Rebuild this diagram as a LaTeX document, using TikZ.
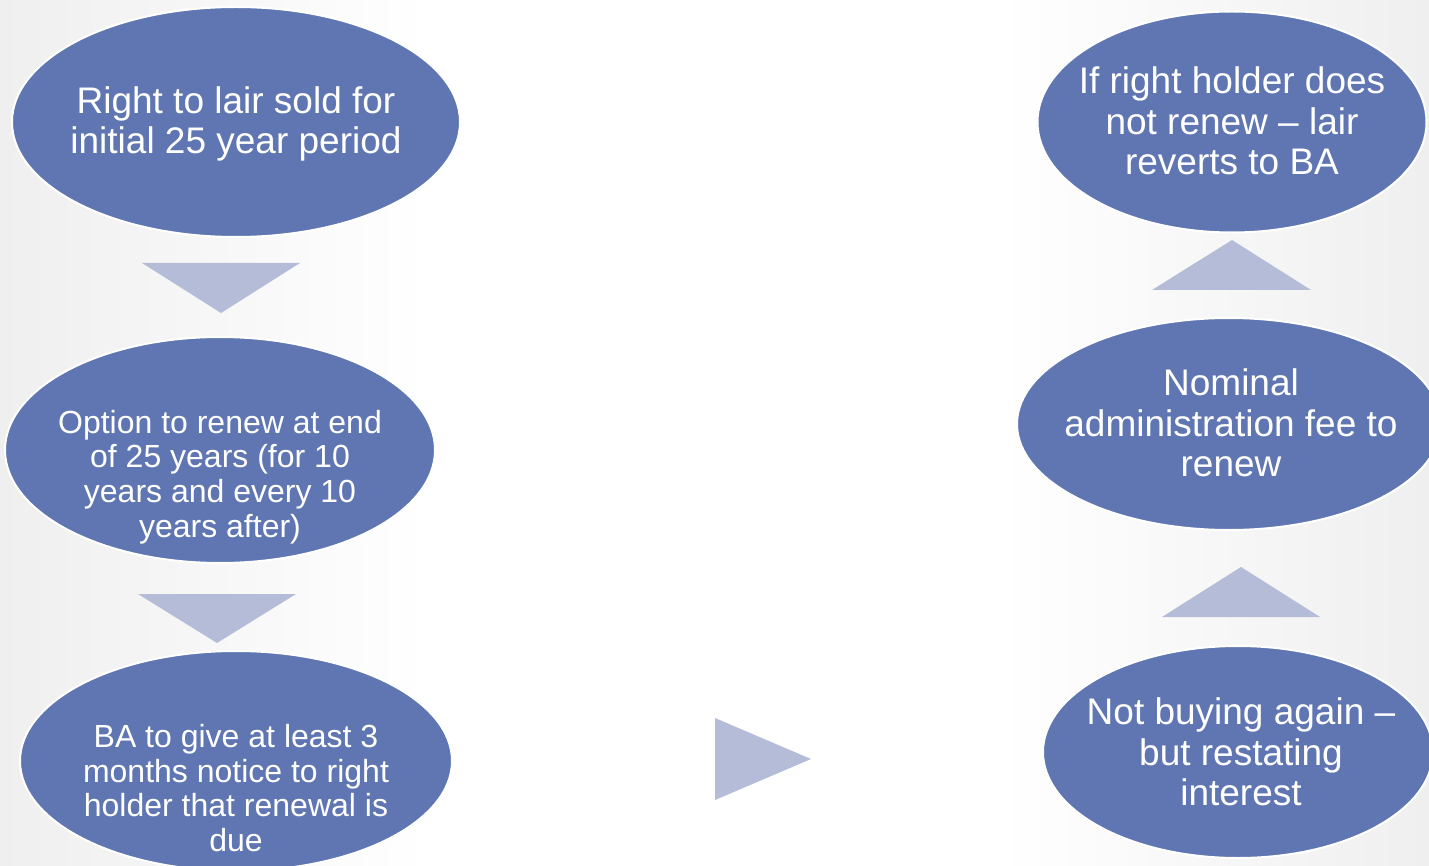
\documentclass[tikz,border=0pt]{standalone}
\usepackage{fontspec}
\setmainfont{Liberation Sans}
\usetikzlibrary{shapes.geometric}
\definecolor{ellfill}{HTML}{5F76B2}
\definecolor{trifill}{HTML}{B4BCD8}
\definecolor{bgedge}{HTML}{EFEFEF}
\pgfdeclarehorizontalshading{bgshade}{100bp}{color(0bp)=(bgedge); color(25bp)=(bgedge); color(40bp)=(white); color(60bp)=(white); color(75bp)=(bgedge); color(100bp)=(bgedge)}
\tikzset{
  oval/.style={ellipse, fill=ellfill, draw=white, line width=2pt, inner sep=0pt},
  bigtxt/.style={text=white, align=center, font=\fontsize{37}{40.5}\selectfont},
  smalltxt/.style={text=white, align=center, font=\fontsize{32}{34.7}\selectfont},
  tri/.style={fill=trifill, draw=none}
}
\begin{document}
\begin{tikzpicture}[x=1pt,y=-1pt]
\useasboundingbox (0,0) rectangle (1429,866);
\clip (0,0) rectangle (1429,866);
\shade[shading=bgshade] (0,0) rectangle (1429,866);
% left column
\node[oval, minimum width=448pt, minimum height=230pt] (e1) at (236,122) {};
\node[bigtxt] (t1) at (236,124) {Right to lair sold for\\initial 25 year period};
\node[oval, minimum width=430pt, minimum height=226pt] (e2) at (220,450) {};
\node[smalltxt] (t2) at (220,477) {Option to renew at end\\of 25 years (for 10\\years and every 10\\years after)};
\node[oval, minimum width=432pt, minimum height=220pt] (e3) at (236,761) {};
\node[smalltxt] (t3) at (236,788) {BA to give at least 3\\months notice to right\\holder that renewal is\\due};
% right column
\node[oval, minimum width=389pt, minimum height=221pt] (e4) at (1232,122) {};
\node[bigtxt] (t4) at (1232,121) {If right holder does\\not renew -- lair\\reverts to BA};
\node[oval, minimum width=424pt, minimum height=212pt] (e5) at (1229,424) {};
\node[bigtxt] (t5) at (1231,423) {Nominal\\administration fee to\\renew};
\node[oval, minimum width=390pt, minimum height=212pt] (e6) at (1238,752) {};
\node[bigtxt] (t6) at (1241,752) {Not buying again --\\but restating\\interest};
% arrows
\fill[tri] (142,263) -- (300,263) -- (221,313) -- cycle;
\fill[tri] (138,594) -- (296,594) -- (217,643) -- cycle;
\fill[tri] (715,718) -- (811,759) -- (715,800) -- cycle;
\fill[tri] (1162,617) -- (1320,617) -- (1241,567) -- cycle;
\fill[tri] (1152,290) -- (1311,290) -- (1232,240) -- cycle;
\end{tikzpicture}
\end{document}
